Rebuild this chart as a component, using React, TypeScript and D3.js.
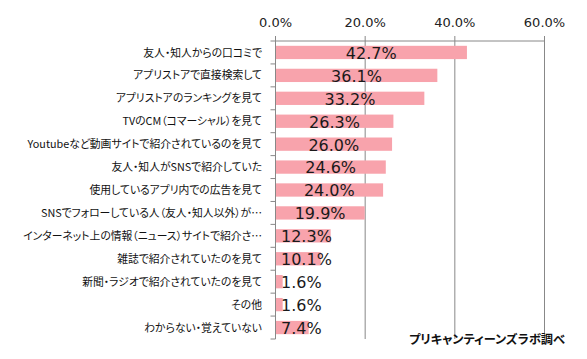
import React from "react";
import * as d3 from "d3";

const categories = [
  "友人・知人からの口コミで",
  "アプリストアで直接検索して",
  "アプリストアのランキングを見て",
  "TVのCM（コマーシャル）を見て",
  "Youtubeなど動画サイトで紹介されているのを見て",
  "友人・知人がSNSで紹介していた",
  "使用しているアプリ内での広告を見て",
  "SNSでフォローしている人（友人・知人以外）が…",
  "インターネット上の情報（ニュース）サイトで紹介さ…",
  "雑誌で紹介されていたのを見て",
  "新聞・ラジオで紹介されていたのを見て",
  "その他",
  "わからない・覚えていない",
];
const values = [42.7, 36.1, 33.2, 26.3, 26.0, 24.6, 24.0, 19.9, 12.3, 10.1, 1.6, 1.6, 7.4];
const xTicks = [0, 20, 40, 60];
const source = "プリキャンティーンズラボ調べ";

const W = 587;
const H = 359;
const left = 275.5;
const right = 544.5;
const top = 41;
const bottom = 339;
const gray = "#888888";
const barColor = "#F8A3AC";

function estWidth(s: string, size: number) {
  let w = 0;
  for (const ch of s) {
    if (ch === ".") w += 0.318;
    else if (ch === "%") w += 0.95;
    else w += 0.636;
  }
  return w * size;
}

export default function App() {
  const x = d3.scaleLinear().domain([0, 60]).range([left, right]);
  const y = d3
    .scaleBand<string>()
    .domain(categories)
    .range([top, bottom])
    .paddingInner(0.42)
    .paddingOuter(0.21);
  const step = (bottom - top) / categories.length;
  const fs = 16;
  return (
    <svg
      width={W}
      height={H}
      style={{ position: "absolute", left: 0, top: 0, background: "#fff" }}
    >
      {xTicks.map((t) => (
        <g key={t}>
          <line x1={x(t)} x2={x(t)} y1={top - 5} y2={bottom} stroke={gray} strokeWidth={1} />
          <text
            x={x(t)}
            y={26.5}
            textAnchor="middle"
            fontFamily="DejaVu Sans"
            fontSize={13}
            fill="#222"
          >
            {t.toFixed(1) + "%"}
          </text>
        </g>
      ))}
      <line x1={left} x2={right} y1={top} y2={top} stroke={gray} strokeWidth={1} />
      {d3.range(categories.length + 1).map((i) => (
        <line
          key={i}
          x1={left - 5}
          x2={left}
          y1={top + i * step}
          y2={top + i * step}
          stroke={gray}
          strokeWidth={1}
        />
      ))}
      {categories.map((c, i) => (
        <rect
          key={c}
          x={left + 0.5}
          y={y(c)!}
          width={x(values[i]) - left - 0.5}
          height={y.bandwidth()}
          fill={barColor}
        />
      ))}
      {categories.map((c) => (
        <text
          key={c}
          x={262}
          y={y(c)! + y.bandwidth() / 2}
          dy="0.38em"
          textAnchor="end"
          fontFamily="'Noto Sans CJK JP'"
          fontSize={10.8}
          fill="#111"
          style={{ fontFeatureSettings: '"palt"' }}
        >
          {c}
        </text>
      ))}
      {categories.map((c, i) => {
        const label = values[i].toFixed(1) + "%";
        const w = estWidth(label, fs);
        const cx = (left + x(values[i])) / 2;
        const lx = Math.max(cx - w / 2, 281);
        return (
          <text
            key={c}
            x={lx}
            y={y(c)! + y.bandwidth() / 2}
            dy="0.4em"
            fontFamily="DejaVu Sans"
            fontSize={fs}
            fill="#1a1a1a"
          >
            {label}
          </text>
        );
      })}
      <line x1={left} x2={left} y1={top} y2={bottom} stroke={gray} strokeWidth={1} />
      <text
        x={565}
        y={344}
        textAnchor="end"
        fontFamily="'Noto Sans CJK JP'"
        fontWeight="bold"
        fontSize={12.2}
        fill="#111"
        style={{ fontFeatureSettings: '"palt"' }}
      >
        {source}
      </text>
    </svg>
  );
}
